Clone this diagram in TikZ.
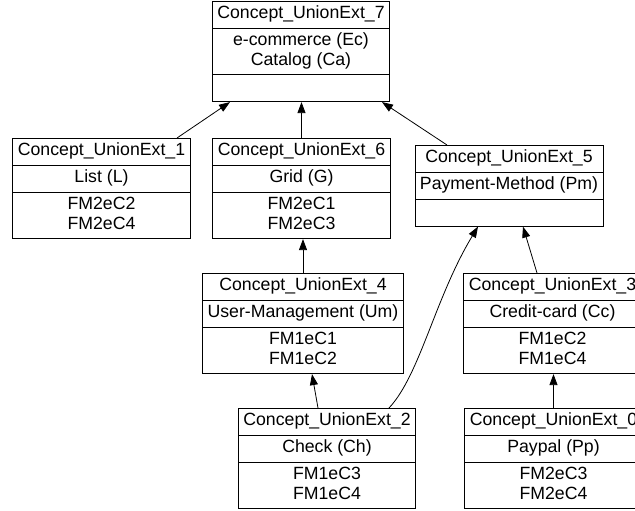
\documentclass[tikz,border=0pt]{standalone}
\usepackage{fontspec}
\setmainfont{Liberation Sans}
\usetikzlibrary{shapes.multipart, arrows.meta}

\tikzset{
  concept/.style={draw, line width=0.9pt, rectangle split, rectangle split parts=3,
    anchor=north, inner xsep=5pt, inner ysep=3.25pt, align=center,
    font=\fontsize{17.7}{19.5}\selectfont},
  fleche/.style={-{Triangle[length=11pt,width=8pt]}, line width=0.8pt}
}

\begin{document}
\begin{tikzpicture}[x=1pt, y=-1pt]
  \useasboundingbox (0,0) rectangle (635,511);
  \clip (0,0) rectangle (635,511);

  % Concepts
  \foreach \nom/\x/\y/\intension/\extension in {
      7/301/1/{e-commerce (Ec)\\Catalog (Ca)}/{},
      1/101.5/138/{List (L)}/{FM2eC2\\FM2eC4},
      6/301.5/138/{Grid (G)}/{FM2eC1\\FM2eC3},
      5/509/145/{Payment-Method (Pm)}/{},
      4/303/273/{User-Management (Um)}/{FM1eC1\\FM1eC2},
      3/552.5/273/{Credit-card (Cc)}/{FM1eC2\\FM1eC4},
      2/327/408/{Check (Ch)}/{FM1eC3\\FM1eC4},
      0/553.5/408/{Paypal (Pp)}/{FM2eC3\\FM2eC4}} {
    \node[concept] (c\nom) at (\x,\y)
      {\strut Concept\_UnionExt\_\nom\strut
       \nodepart{two}\strut\intension\strut
       \nodepart{three}\strut\extension\strut};
  }

  % Ordre du treillis
  \draw[fleche] ([xshift=75.5pt]c1.north) -- ([xshift=-71pt]c7.south);
  \draw[fleche] (c6.north) -- (c6.north |- c7.south);
  \draw[fleche] ([xshift=-62pt]c5.north) -- ([xshift=81pt]c7.south);
  \draw[fleche] (c4.north) -- (c4.north |- c6.south);
  \draw[fleche] ([xshift=-9pt]c2.north) -- ([xshift=9pt]c4.south);
  \draw[fleche] ([xshift=62pt]c2.north) .. controls +(31,-33) and +(-43,71) .. ([xshift=-31pt]c5.south);
  \draw[fleche] ([xshift=-15.5pt]c3.north) -- ([xshift=14pt]c5.south);
  \draw[fleche] (c0.north) -- (c0.north |- c3.south);
\end{tikzpicture}
\end{document}
